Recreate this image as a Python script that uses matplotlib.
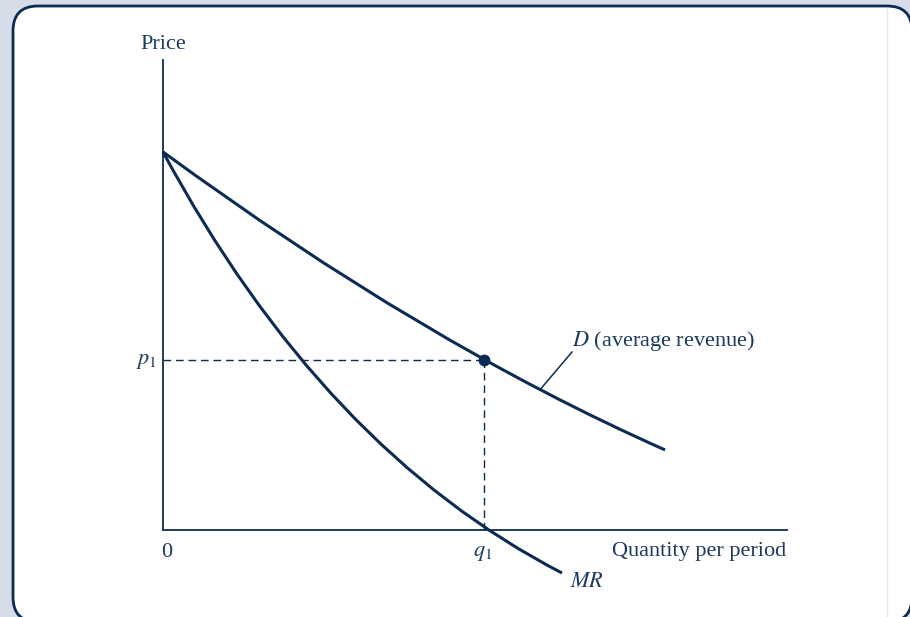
import matplotlib
matplotlib.use("Agg")
import matplotlib.pyplot as plt
from matplotlib.patches import FancyBboxPatch, PathPatch
from matplotlib.path import Path

plt.rcParams['font.family'] = ['Liberation Serif', 'DejaVu Serif']
plt.rcParams['mathtext.fontset'] = 'stix'

navy = '#0c2b52'
ink = '#1c3a60'

# curves as quadratic Bezier (start, control, end); quantity in units of q1, price in units of p1
d_q = [0.0, 0.812, 1.564]
d_p = [2.224, 1.10, 0.471]

mr_q = [0.0, 0.50, 1.243]
mr_p = [2.224, 0.47, -0.253]

q1 = 1.0
p1 = 1.0

fig = plt.figure(figsize=(9.10, 6.17), dpi=100)
fig.patch.set_facecolor('#d6dce8')

# card behind the diagram
deco = fig.add_axes([0, 0, 1, 1])
deco.set_xlim(0, 910)
deco.set_ylim(617, 0)
deco.axis('off')
card = FancyBboxPatch((13, 6), 899, 616, boxstyle='round,pad=0,rounding_size=25',
                      facecolor='white', edgecolor=navy, linewidth=2.0)
deco.add_patch(card)
deco.plot([887, 887], [8, 617], color='#e6e9ef', lw=1.0)

ax = fig.add_axes([163 / 910, 87 / 617, 624 / 910, 470 / 617])
ax.set_xlim(0, 624 / 321)
ax.set_ylim(0, 470 / 170)
ax.patch.set_alpha(0)
for side in ['top', 'right']:
    ax.spines[side].set_visible(False)
for side in ['left', 'bottom']:
    ax.spines[side].set_color(navy)
    ax.spines[side].set_linewidth(1.3)
ax.set_xticks([])
ax.set_yticks([])

# guide lines to the chosen point
ax.plot([0, q1], [p1, p1], color=navy, lw=1.0, dashes=(5.5, 3.5))
ax.plot([q1, q1], [0, p1], color=navy, lw=1.0, dashes=(5.5, 3.5))


def curve(qs, ps):
    path = Path(list(zip(qs, ps)), [Path.MOVETO, Path.CURVE3, Path.CURVE3])
    ax.add_patch(PathPatch(path, facecolor='none', edgecolor=navy, lw=2.2,
                           capstyle='butt', clip_on=False))


curve(d_q, d_p)
curve(mr_q, mr_p)
ax.plot([q1], [p1], 'o', color=navy, markersize=7.5, clip_on=False)

# leader from the label to the demand curve
ax.plot([1.174, 1.274], [0.824, 1.047], color=navy, lw=1.1, clip_on=False)

fs = 16
ax.text(0, 2.829, 'Price', ha='center', va='baseline', fontsize=fs, color=ink)
ax.text(-0.019, 0.976, '$p_1$', ha='right', va='baseline', fontsize=fs, color=ink)
ax.text(0.0125, -0.159, '0', ha='center', va='baseline', fontsize=fs, color=ink)
ax.text(q1 - 0.005, -0.153, '$q_1$', ha='center', va='baseline', fontsize=fs, color=ink)
ax.text(1.399, -0.153, 'Quantity per period', ha='left', va='baseline', fontsize=fs, color=ink)
ax.text(1.268, -0.335, '$MR$', ha='left', va='baseline', fontsize=fs, color=ink)
ax.text(1.274, 1.082, '$D$ (average revenue)', ha='left', va='baseline', fontsize=fs, color=ink)

fig.savefig('out.png', dpi=100, facecolor=fig.get_facecolor())
